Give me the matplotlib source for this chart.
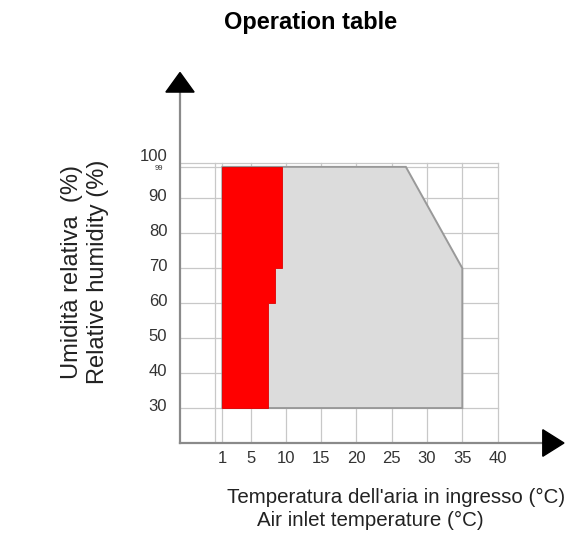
import matplotlib
matplotlib.use("Agg")
import matplotlib.pyplot as plt
from matplotlib.patches import Polygon

plt.rcParams['font.family'] = ['Liberation Sans', 'DejaVu Sans']

# ---- data ----
x_ticks = [1, 5, 10, 15, 20, 25, 30, 35, 40]
x_grid = [0, 1, 5, 10, 15, 20, 25, 30, 35, 40]
y_ticks = [30, 40, 50, 60, 70, 80, 90, 100]
y_top_level = 99
y_top_label = "99"

# operating envelope (grey)
env_temp = [1, 1, 27, 35, 35]
env_hum = [30, 99, 99, 70, 30]

# red (restricted) zone, stepped right edge
red_hum_edges = [30, 60, 70, 99]
red_temp_max = [7.5, 8.5, 9.5]
red_temp_min = 1

title = "Operation table"
xlabel_it = "Temperatura dell'aria in ingresso (°C)"
xlabel_en = "Air inlet temperature (°C)"
ylabel_it = "Umidità relativa  (%)"
ylabel_en = "Relative humidity (%)"

# ---- figure ----
W, H = 569, 538
fig = plt.figure(figsize=(W / 100, H / 100), dpi=100)
ax = fig.add_axes([180 / W, 1 - 443 / H, (568.2 - 180) / W, (443 - 69) / H])
xmin, xmax = -5, 50
ymin, ymax = 20, 127
ax.set_xlim(xmin, xmax)
ax.set_ylim(ymin, ymax)
for s in ax.spines.values():
    s.set_visible(False)
ax.set_xticks([])
ax.set_yticks([])

grid_col = '#c8c8c8'
# vertical grid lines
for xv in x_grid:
    ax.plot([xv, xv], [ymin, 100], color=grid_col, lw=0.9, zorder=1)
# horizontal grid lines
for yv in y_ticks + [y_top_level]:
    ax.plot([xmin, 40], [yv, yv], color=grid_col, lw=0.9, zorder=1)

# grey envelope
ax.add_patch(Polygon(list(zip(env_temp, env_hum)), closed=True,
                     facecolor='#dcdcdc', edgecolor='#999999', lw=1.4, zorder=2))

# red zone
red_pts = [(red_temp_min, red_hum_edges[0])]
for i, tmax in enumerate(red_temp_max):
    red_pts.append((tmax, red_hum_edges[i]))
    red_pts.append((tmax, red_hum_edges[i + 1]))
red_pts.append((red_temp_min, red_hum_edges[-1]))
ax.add_patch(Polygon(red_pts, closed=True, facecolor='#ff0000',
                     edgecolor='#e00000', lw=0.6, zorder=3))

# axis lines
axis_col = '#8a8a8a'
ax.plot([xmin, 46.4], [ymin, ymin], color=axis_col, lw=1.6, zorder=4, clip_on=False)
ax.plot([xmin, xmin], [ymin, 120.5], color=axis_col, lw=1.6, zorder=4, clip_on=False)
# arrows
ax.add_patch(Polygon([(46.4, 16.2), (49.4, 20), (46.4, 23.8)], closed=True,
                     facecolor='black', edgecolor='black', zorder=5, clip_on=False))
ax.add_patch(Polygon([(-7.0, 120.4), (-5.0, 126.0), (-3.0, 120.4)], closed=True,
                     facecolor='black', edgecolor='black', zorder=5, clip_on=False))

# tick labels
lab_col = '#333333'
for xv in x_ticks:
    ax.text(xv, ymin - 2.2, str(xv), ha='center', va='top', fontsize=12, color=lab_col)
for yv in y_ticks:
    dy = 2.0 if yv == 100 else 0.5
    ax.text(xmin - 1.8, yv + dy, str(yv), ha='right', va='center', fontsize=12, color=lab_col)
ax.text(xmin - 2.4, y_top_level - 0.6, y_top_label, ha='right', va='center',
        fontsize=5.5, color=lab_col)

# titles
fig.text(311 / W, 1 - 22 / H, title, ha='center', va='center',
         fontsize=17, fontweight='bold', color='black')
fig.text(396 / W, 1 - 497 / H, xlabel_it, ha='center', va='center',
         fontsize=14.8, color='#222222')
fig.text(370 / W, 1 - 520 / H, xlabel_en, ha='center', va='center',
         fontsize=14.8, color='#222222')
fig.text(72 / W, 1 - 272 / H, ylabel_it, ha='center', va='center',
         rotation=90, fontsize=17, color='#222222')
fig.text(98 / W, 1 - 272 / H, ylabel_en, ha='center', va='center',
         rotation=90, fontsize=17, color='#222222')

fig.savefig('out.png', dpi=100)
